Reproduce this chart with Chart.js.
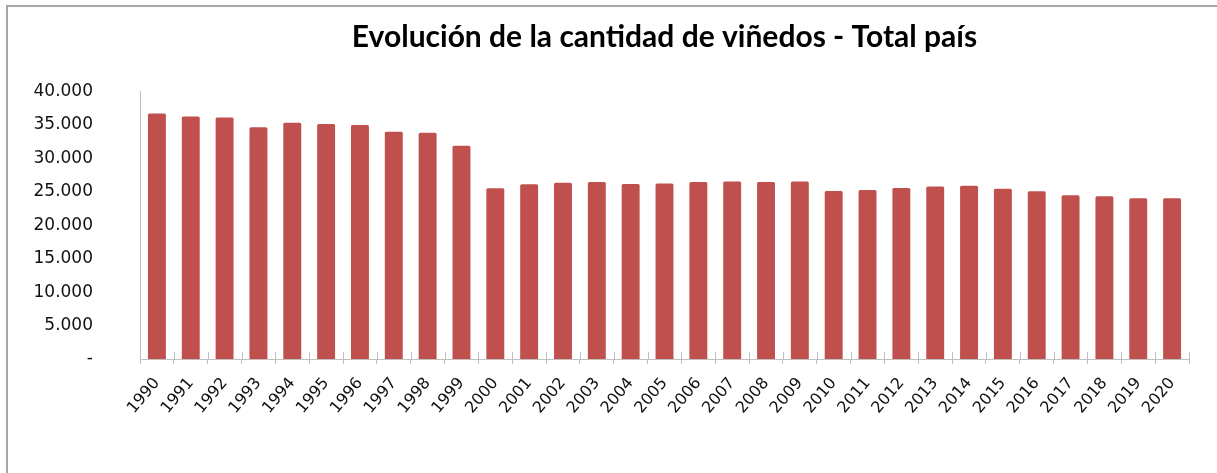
<!DOCTYPE html>
<html>
<head>
<meta charset="utf-8">
<script src="https://cdn.jsdelivr.net/npm/chart.js@4/dist/chart.umd.min.js"></script>
<style>
  html, body { margin: 0; padding: 0; background: #fff; overflow: hidden; }
  #wrap { position: relative; width: 1217px; height: 473px; }
  #frame { position: absolute; left: 6px; top: 5px; width: 1230px; height: 480px;
           border-left: 2px solid #a6a6a6; border-top: 2px solid #a6a6a6; }
  #c { position: absolute; left: 0; top: 0; }
</style>
</head>
<body>
<div id="wrap">
  <div id="frame"></div>
  <canvas id="c" width="1217" height="473"></canvas>
</div>
<script>
const titulo = "Evolución de la cantidad de viñedos - Total país";
const anios = ["1990","1991","1992","1993","1994","1995","1996","1997","1998","1999",
               "2000","2001","2002","2003","2004","2005","2006","2007","2008","2009",
               "2010","2011","2012","2013","2014","2015","2016","2017","2018","2019","2020"];
const vinedos = [36700, 36280, 36130, 34640, 35330, 35130, 34980, 33980, 33830, 31890,
                 25520, 26120, 26360, 26460, 26160, 26260, 26460, 26560, 26460, 26560,
                 25140, 25270, 25560, 25810, 25910, 25460, 25070, 24470, 24320, 24020, 24020];
const ejeY = { min: 0, max: 40000, paso: 5000 };

const rojo = '#C0504D';
const gris = '#bfbfbf';

// titulo centrado sobre el area del grafico (como Excel)
const tituloArea = {
  id: 'tituloArea',
  afterDraw(chart) {
    const a = chart.chartArea, ctx = chart.ctx;
    ctx.save();
    ctx.font = 'bold 30px Lato';
    ctx.fillStyle = '#000';
    ctx.textAlign = 'center';
    ctx.textBaseline = 'middle';
    ctx.fillText(titulo, (a.left + a.right) / 2, 37);
    ctx.restore();
  }
};

// marcas de eje "cruzadas" (parte interior)
const marcasCruz = {
  id: 'marcasCruz',
  afterDraw(chart) {
    const x = chart.scales.x, ctx = chart.ctx;
    ctx.save();
    ctx.strokeStyle = gris;
    ctx.lineWidth = 1;
    ctx.beginPath();
    for (let i = 0; i <= anios.length; i++) {
      const px = Math.round(x.getPixelForValue(i - 0.5)) + 0.5;
      ctx.moveTo(px, x.top - 7);
      ctx.lineTo(px, x.top);
    }
    ctx.stroke();
    ctx.restore();
  }
};

function fmt(v) {
  if (v === 0) return '-';
  return v.toLocaleString('de-DE');
}

new Chart(document.getElementById('c'), {
  type: 'bar',
  data: {
    labels: anios,
    datasets: [{ data: vinedos, backgroundColor: rojo, borderRadius: 1.5,
                 barPercentage: 0.53, categoryPercentage: 1 }]
  },
  options: {
    responsive: false,
    animation: false,
    layout: { padding: { left: 0, right: 28, top: 91.5, bottom: 0 } },
    plugins: {
      legend: { display: false },
      tooltip: { enabled: false },
      title: { display: false }
    },
    scales: {
      x: {
        grid: { offset: true, drawOnChartArea: false, tickLength: 5, color: gris },
        border: { color: gris },
        ticks: { color: '#111', font: { family: 'DejaVu Sans', size: 16 },
                 minRotation: 50, maxRotation: 50, padding: 10, autoSkip: false },
        afterFit(s) { s.height = 114; }
      },
      y: {
        min: ejeY.min, max: ejeY.max,
        grid: { display: false, drawTicks: false },
        border: { color: gris },
        ticks: { stepSize: ejeY.paso, color: '#111', font: { family: 'DejaVu Sans', size: 17 },
                 padding: 47, callback: v => fmt(v) },
        afterFit(s) { s.width = 140; }
      }
    }
  },
  plugins: [tituloArea, marcasCruz]
});
</script>
</body>
</html>
